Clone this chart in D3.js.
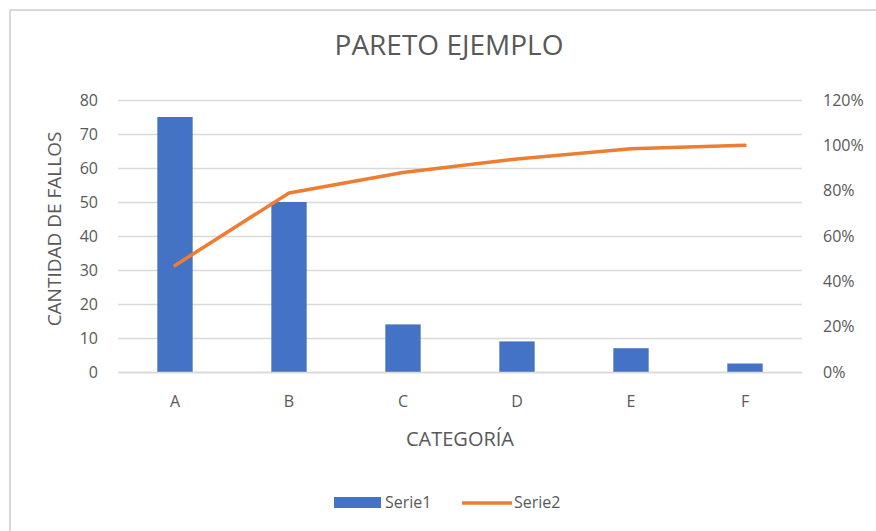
<!DOCTYPE html>
<html>
<head>
  <title>Pareto Ejemplo</title>
  <script src="https://cdnjs.cloudflare.com/ajax/libs/d3/7.8.5/d3.min.js"></script>
  <style>
  body { margin: 0; background: #fff; }
  svg text { font-family: "Liberation Sans Narrow", "Open Sans", sans-serif; fill: #595959; }
  </style>
</head>
<body>
  <script>

var categorias = ["A", "B", "C", "D", "E", "F"];
var serie1 = [75, 50, 14, 9, 7, 2.5];
var serie2 = [0.47, 0.79, 0.88, 0.94, 0.985, 1.00];
var ticksIzq = [0, 10, 20, 30, 40, 50, 60, 70, 80];
var ticksDer = [0, 0.2, 0.4, 0.6, 0.8, 1.0, 1.2];

var width = 876, height = 531;
var MARGINS = {left: 118, top: 100, right: 74, bottom: 159};

var svg = d3.select("body").append("svg")
        .attr("width", width)
        .attr("height", height);

// chart frame (only top/left edges visible in the picture)
svg.append("rect")
        .attr("x", 10).attr("y", 10)
        .attr("width", width + 20).attr("height", height + 20)
        .attr("fill", "#fff")
        .attr("stroke", "#d9d9d9")
        .attr("stroke-width", 2);

var xScale = d3.scaleBand()
        .domain(categorias)
        .range([MARGINS.left, width - MARGINS.right])
        .paddingInner(0.69)
        .paddingOuter(0.345);

var yScale = d3.scaleLinear()
        .domain([0, 80])
        .range([height - MARGINS.bottom, MARGINS.top]);

var y2Scale = d3.scaleLinear()
        .domain([0, 1.2])
        .range([height - MARGINS.bottom, MARGINS.top]);

// gridlines
var grid = d3.axisLeft(yScale)
        .tickValues(ticksIzq)
        .tickSize(-(width - MARGINS.left - MARGINS.right))
        .tickFormat("");
var gridGroup = svg.append("g")
        .attr("transform", "translate(" + MARGINS.left + ",0)")
        .call(grid);
gridGroup.select(".domain").remove();
gridGroup.selectAll(".tick line")
        .attr("stroke", "#d9d9d9")
        .attr("stroke-width", 1.5);

// left axis labels
var yAxis = d3.axisLeft(yScale).tickValues(ticksIzq).tickSize(0).tickPadding(20);
var yAxisGroup = svg.append("g")
        .attr("transform", "translate(" + MARGINS.left + ",0)")
        .call(yAxis);
yAxisGroup.select(".domain").remove();
yAxisGroup.selectAll("text")
        .attr("font-size", "16px")
        .attr("font-family", null);

// right axis labels
var y2Axis = d3.axisRight(y2Scale).tickValues(ticksDer).tickSize(0).tickPadding(21)
        .tickFormat(d3.format(".0%"));
var y2AxisGroup = svg.append("g")
        .attr("transform", "translate(" + (width - MARGINS.right) + ",0)")
        .call(y2Axis);
y2AxisGroup.select(".domain").remove();
y2AxisGroup.selectAll("text")
        .attr("font-size", "16px")
        .attr("font-family", null);

// bars
svg.selectAll("rect.bar")
        .data(serie1)
        .enter().append("rect")
        .attr("class", "bar")
        .attr("x", function(d, i) { return xScale(categorias[i]); })
        .attr("y", function(d) { return yScale(d); })
        .attr("width", xScale.bandwidth())
        .attr("height", function(d) { return yScale(0) - yScale(d); })
        .attr("fill", "#4472c4");

// x axis (baseline + labels)
var xAxis = d3.axisBottom(xScale).tickSize(0).tickPadding(24);
var xAxisGroup = svg.append("g")
        .attr("transform", "translate(0," + yScale(0) + ")")
        .call(xAxis);
xAxisGroup.select(".domain")
        .attr("stroke", "#d9d9d9")
        .attr("stroke-width", 1.5);
xAxisGroup.selectAll("text")
        .attr("font-size", "16px")
        .attr("font-family", null);

// cumulative line
var line = d3.line()
        .x(function(d, i) { return xScale(categorias[i]) + xScale.bandwidth() / 2; })
        .y(function(d) { return y2Scale(d); });

svg.append("path")
        .datum(serie2)
        .attr("d", line)
        .attr("fill", "none")
        .attr("stroke", "#ed7d31")
        .attr("stroke-width", 3.5)
        .attr("stroke-linejoin", "round")
        .attr("stroke-linecap", "round");

// titles
svg.append("text")
        .attr("x", 449).attr("y", 55)
        .attr("text-anchor", "middle")
        .attr("font-size", "28px")
        .text("PARETO EJEMPLO");

svg.append("text")
        .attr("x", 460).attr("y", 446)
        .attr("text-anchor", "middle")
        .attr("font-size", "20px")
        .text("CATEGORÍA");

svg.append("text")
        .attr("transform", "translate(61,229) rotate(-90)")
        .attr("text-anchor", "middle")
        .attr("font-size", "19px")
        .text("CANTIDAD DE FALLOS");

// legend
var legend = svg.append("g");
legend.append("rect")
        .attr("x", 334).attr("y", 497)
        .attr("width", 47).attr("height", 11)
        .attr("fill", "#4472c4");
legend.append("text")
        .attr("x", 385).attr("y", 508)
        .attr("font-size", "16px")
        .text("Serie1");
legend.append("line")
        .attr("x1", 462).attr("x2", 512)
        .attr("y1", 503).attr("y2", 503)
        .attr("stroke", "#ed7d31")
        .attr("stroke-width", 3.5);
legend.append("text")
        .attr("x", 514).attr("y", 508)
        .attr("font-size", "16px")
        .text("Serie2");

  </script>
</body>
</html>
